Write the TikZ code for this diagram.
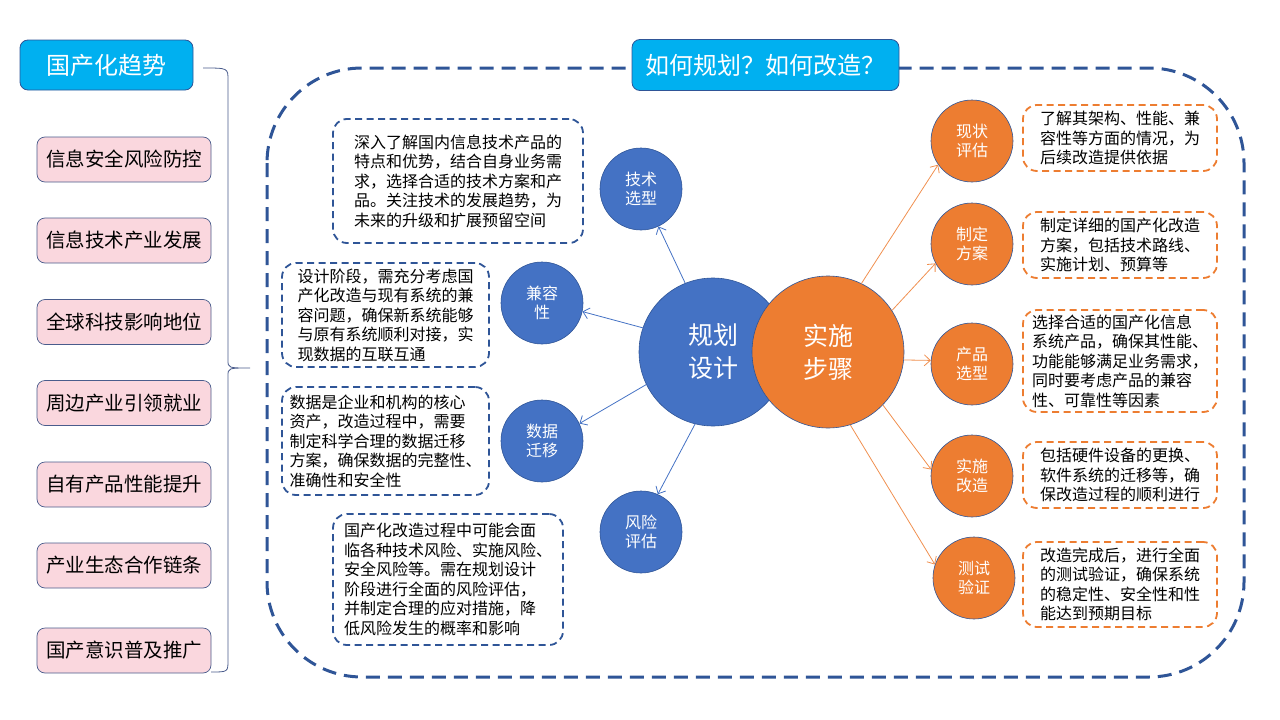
\documentclass[tikz,border=0pt]{standalone}
\usepackage{fontspec}
\setmainfont{Noto Sans CJK SC}
\usepackage{tikz}
\usetikzlibrary{arrows.meta}

\definecolor{skyblue}{HTML}{00B0F0}
\definecolor{planblue}{HTML}{4472C4}
\definecolor{stepline}{HTML}{ED7D31}
\definecolor{frameblue}{HTML}{2F5597}
\definecolor{pinkfill}{HTML}{FAD7DE}
\definecolor{pinkedge}{HTML}{4A5C8C}

\begin{document}
\begin{tikzpicture}[
  x=1pt, y=-1pt,
  every node/.style = {align=center, inner sep=0pt},
  headbox/.style = {rectangle, rounded corners=8pt, draw=frameblue, line width=0.8pt,
    fill=skyblue, text=white, font=\fontsize{24}{27}\selectfont},
  trendbox/.style = {rectangle, rounded corners=8pt, draw=pinkedge, line width=0.7pt,
    fill=pinkfill, minimum width=174pt, minimum height=45pt,
    font=\fontsize{19.5}{22}\selectfont},
  bigdot/.style = {circle, draw=frameblue, line width=0.6pt, minimum size=150pt,
    text=white, font=\fontsize{25}{33}\selectfont},
  smalldot/.style = {circle, draw=frameblue, line width=0.6pt, minimum size=82pt,
    text=white, font=\fontsize{16}{19}\selectfont},
  note/.style = {rectangle, rounded corners=14pt, line width=1.8pt,
    dash pattern=on 7pt off 4.5pt, align=left, font=\fontsize{16}{19.5}\selectfont},
  plannote/.style = {note, draw=frameblue},
  stepnote/.style = {note, draw=stepline},
  planarrow/.style = {draw=planblue, line width=0.8pt, -{Straight Barb[length=6pt,width=11pt]}},
  steparrow/.style = {draw=stepline!85!white, line width=0.8pt, -{Straight Barb[length=6pt,width=11pt]}}
  ]
  \useasboundingbox (0,0) rectangle (1280,720);

  % left column
  \node[headbox, minimum width=173pt, minimum height=50pt] (trends) at (106.5,65) {国产化趋势};
  \node[trendbox] (t1) at (124,159.5) {信息安全风险防控};
  \node[trendbox] (t2) at (124,240.5) {信息技术产业发展};
  \node[trendbox] (t3) at (124,322) {全球科技影响地位};
  \node[trendbox] (t4) at (124,403) {周边产业引领就业};
  \node[trendbox] (t5) at (124,484.5) {自有产品性能提升};
  \node[trendbox] (t6) at (124,565.5) {产业生态合作链条};
  \node[trendbox] (t7) at (124,650.5) {国产意识普及推广};

  % brace
  \draw[pinkedge, line width=0.8pt] (203,68) .. controls (228,68) .. (228,80) -- (228,360)
    .. controls (228,368) .. (250,368) .. controls (228,368) .. (228,376) -- (228,660)
    .. controls (228,672) .. (211,672);

  % dashed frame
  \draw[frameblue, line width=3pt, dash pattern=on 14pt off 8pt, rounded corners=95pt]
    (267,68) rectangle (1244,677);
  \node[headbox, minimum width=267pt, minimum height=51pt] (howto) at (765.5,65) {如何规划？如何改造？};

  % centre
  \node[bigdot, fill=planblue, minimum size=148pt] (plan) at (713,352) {规划\\设计};
  \node[bigdot, fill=stepline, minimum size=152pt] (exec) at (828,352) {实施\\步骤};

  % planning branches
  \node[smalldot, fill=planblue] (tech) at (641,189) {技术\\选型};
  \node[smalldot, fill=planblue] (compat) at (542,303) {兼容\\性};
  \node[smalldot, fill=planblue] (data) at (542,441) {数据\\迁移};
  \node[smalldot, fill=planblue] (risk) at (641,532) {风险\\评估};

  \draw[planarrow] (plan.112) -- (tech.295);
  \draw[planarrow] (plan.161) -- (compat.348);
  \draw[planarrow] (plan.206) -- (data.25);
  \draw[planarrow] (plan.256) -- (risk.66);

  \node[plannote, minimum width=250pt, minimum height=124pt] (technote) at (458,181)
    {深入了解国内信息技术产品的\\特点和优势，结合自身业务需\\求，选择合适的技术方案和产\\品。关注技术的发展趋势，为\\未来的升级和扩展预留空间};
  \node[plannote, minimum width=207pt, minimum height=104pt] (compatnote) at (385.5,315)
    {设计阶段，需充分考虑国\\产化改造与现有系统的兼\\容问题，确保新系统能够\\与原有系统顺利对接，实\\现数据的互联互通};
  \node[plannote, minimum width=207pt, minimum height=108pt] (datanote) at (385.5,441)
    {数据是企业和机构的核心\\资产，改造过程中，需要\\制定科学合理的数据迁移\\方案，确保数据的完整性、\\准确性和安全性};
  \node[plannote, minimum width=230pt, minimum height=131pt] (risknote) at (448,579.5)
    {国产化改造过程中可能会面\\临各种技术风险、实施风险、\\安全风险等。需在规划设计\\阶段进行全面的风险评估，\\并制定合理的应对措施，降\\低风险发生的概率和影响};

  % implementation steps
  \node[smalldot, fill=stepline] (s1) at (972,141) {现状\\评估};
  \node[smalldot, fill=stepline] (s2) at (972,244) {制定\\方案};
  \node[smalldot, fill=stepline] (s3) at (972,364) {产品\\选型};
  \node[smalldot, fill=stepline] (s4) at (972,476) {实施\\改造};
  \node[smalldot, fill=stepline] (s5) at (974,578) {测试\\验证};

  \draw[steparrow] (exec.64) -- (s1.215);
  \draw[steparrow] (exec.33) -- (s2.208);
  \draw[steparrow] (exec.354) -- (s3.175);
  \draw[steparrow] (exec.316) -- (s4.171);
  \draw[steparrow] (exec.287) -- (s5.161);

  \node[stepnote, minimum width=194pt, minimum height=66pt] (n1) at (1120,138)
    {了解其架构、性能、兼\\容性等方面的情况，为\\后续改造提供依据};
  \node[stepnote, minimum width=194pt, minimum height=66pt] (n2) at (1120,245)
    {制定详细的国产化改造\\方案，包括技术路线、\\实施计划、预算等};
  \node[stepnote, minimum width=194pt, minimum height=102pt] (n3) at (1120,361)
    {选择合适的国产化信息\\系统产品，确保其性能、\\功能能够满足业务需求，\\同时要考虑产品的兼容\\性、可靠性等因素};
  \node[stepnote, minimum width=194pt, minimum height=66pt] (n4) at (1120,475)
    {包括硬件设备的更换、\\软件系统的迁移等，确\\保改造过程的顺利进行};
  \node[stepnote, minimum width=194pt, minimum height=85pt] (n5) at (1120,584.5)
    {改造完成后，进行全面\\的测试验证，确保系统\\的稳定性、安全性和性\\能达到预期目标};
\end{tikzpicture}
\end{document}
